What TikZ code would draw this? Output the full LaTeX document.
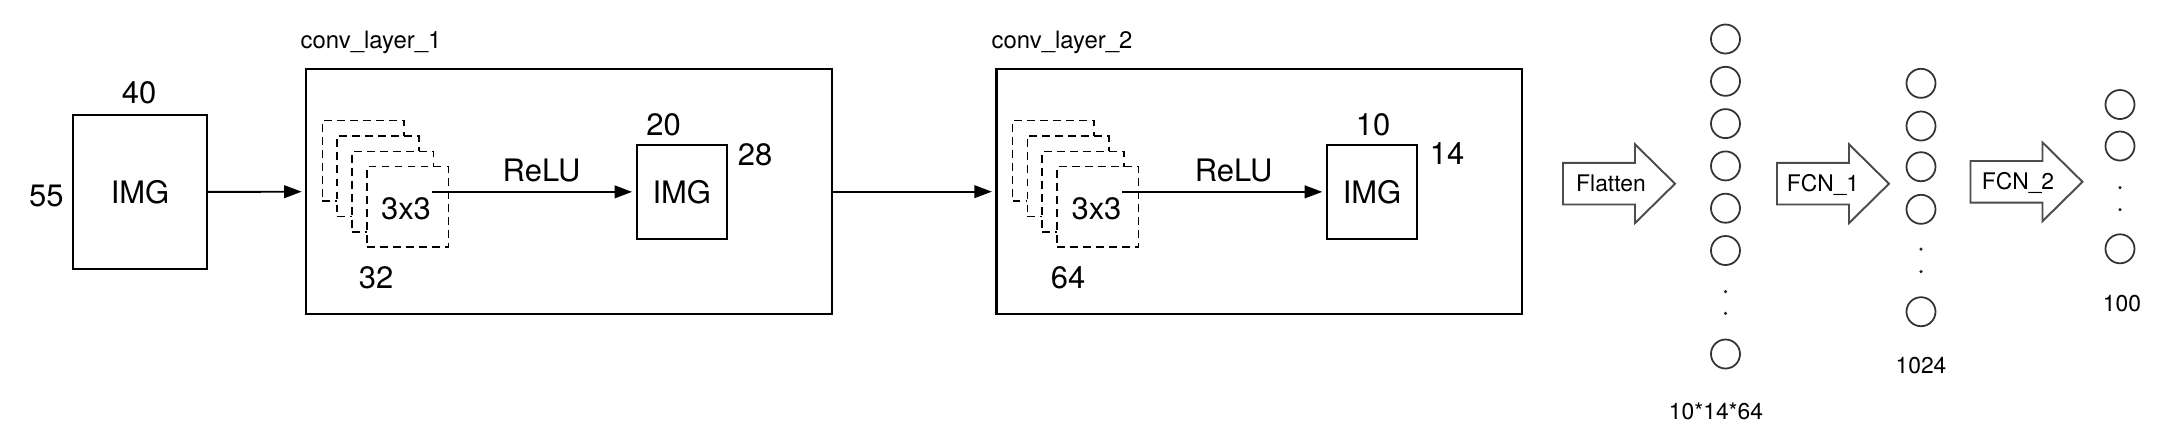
\documentclass[tikz,border=0pt]{standalone}
\usepackage{fontspec}
\setmainfont{TeX Gyre Heros}
\usetikzlibrary{arrows.meta}
\begin{document}
\begin{tikzpicture}[x=0.01cm,y=-0.01cm,
 box/.style={draw=black, line width=0.6pt, inner sep=0},
 lbl/.style={font=\fontsize{8.8}{10}\selectfont, inner sep=0},
 sml/.style={font=\fontsize{6.5}{8}\selectfont, inner sep=0},
 dsq/.style={draw=black, dash pattern=on 2.2pt off 1.5pt, line width=0.45pt, fill=white, minimum width=0.815cm, minimum height=0.805cm, inner sep=0},
 conn/.style={line width=0.55pt, -{Triangle[length=5pt,width=3.6pt]}, shorten >=1pt},
 neuron/.style={circle, draw=black!80, line width=0.5pt, minimum size=0.29cm, inner sep=0},
 dotn/.style={circle, fill=black!85, minimum size=0.035cm, inner sep=0},
 fatline/.style={draw=black!70, line width=0.55pt, fill=white, line join=miter},
 fatarr/.pic={\draw[fatline] (0,-20.8) -- (72,-20.8) -- (72,-39.4) -- (112,0) -- (72,39.4) -- (72,20.8) -- (0,20.8) -- cycle;}
]
\fill[white] (0,0) rectangle (2168,444);
\useasboundingbox (0,0) rectangle (2168,444);

% input image
\node[box, lbl, minimum width=1.342cm, minimum height=1.537cm] (img0) at (140,191.9) {IMG};
\node[lbl] (w0) at (139,92.5) {40};
\node[lbl] (h0) at (46.4,196) {55};

% conv layer 1
\node[box, minimum width=5.255cm, minimum height=2.453cm] (conv1) at (569.15,191.65) {};
\node[sml, font=\fontsize{6.8}{8}\selectfont, anchor=base west] (conv1lbl) at (300,48) {conv\_layer\_1};
\node[dsq] (s1a) at (363.25,160.75) {};
\node[dsq] (s1b) at (378.05,176.15) {};
\node[dsq] (s1c) at (392.85,191.55) {};
\node[dsq] (s1d) at (407.65,206.95) {};
\node[lbl] (k1) at (406,208.3) {3x3};
\node[lbl] (n1) at (376,278) {32};
\node[box, lbl, minimum width=0.902cm, minimum height=0.943cm] (im1) at (681.8,191.85) {IMG};
\node[lbl] (w1) at (663.5,124.7) {20};
\node[lbl] (h1) at (755,154.4) {28};
\node[lbl] (r1) at (541.6,170.4) {ReLU};

% conv layer 2
\node[box, minimum width=5.255cm, minimum height=2.453cm] (conv2) at (1259.35,191.65) {};
\node[sml, font=\fontsize{6.8}{8}\selectfont, anchor=base west] (conv2lbl) at (991,48) {conv\_layer\_2};
\node[dsq] (s2a) at (1053.45,160.75) {};
\node[dsq] (s2b) at (1068.25,176.15) {};
\node[dsq] (s2c) at (1083.05,191.55) {};
\node[dsq] (s2d) at (1097.85,206.95) {};
\node[lbl] (k2) at (1096.5,208.3) {3x3};
\node[lbl] (n2) at (1068,278) {64};
\node[box, lbl, minimum width=0.902cm, minimum height=0.943cm] (im2) at (1372,191.85) {IMG};
\node[lbl] (w2) at (1373,125) {10};
\node[lbl] (h2) at (1447,154) {14};
\node[lbl] (r2) at (1233.7,170.4) {ReLU};

% connectors
\draw[conn] (img0.east) -- (conv1.west);
\draw[conn] (k1.east |- im1.west) -- (im1.west);
\draw[conn] (conv1.east) -- (conv2.west);
\draw[conn] (k2.east |- im2.west) -- (im2.west);

% fat arrows
\pic at (1563,183.7) {fatarr};
\node[sml, anchor=base] (flat) at (1611,191.7) {Flatten};
\pic at (1777,183.7) {fatarr};
\node[sml, anchor=base] (fcn1) at (1823,191.9) {FCN\_1};
\pic at (1970.5,181.8) {fatarr};
\node[sml, anchor=base] (fcn2) at (2018,189.9) {FCN\_2};

% column 1
\node[neuron] (a1) at (1725.5,39) {};
\node[neuron] (a2) at (1725.5,81.3) {};
\node[neuron] (a3) at (1725.5,123.6) {};
\node[neuron] (a4) at (1725.5,165.9) {};
\node[neuron] (a5) at (1725.5,208.2) {};
\node[neuron] (a6) at (1725.5,250.5) {};
\node[dotn] (ad1) at (1725.5,291.7) {};
\node[dotn] (ad2) at (1725.5,313.3) {};
\node[neuron] (a7) at (1725.5,354) {};
\node[sml] (alab) at (1716,411.7) {10*14*64};

% column 2
\node[neuron] (b1) at (1921,83.3) {};
\node[neuron] (b2) at (1921,126) {};
\node[neuron] (b3) at (1921,166.7) {};
\node[neuron] (b4) at (1921,209.3) {};
\node[dotn] (bd1) at (1921,249) {};
\node[dotn] (bd2) at (1921,271.7) {};
\node[neuron] (b5) at (1921,311.7) {};
\node[sml] (blab) at (1921,366) {1024};

% column 3
\node[neuron] (c1) at (2120,104.5) {};
\node[neuron] (c2) at (2120,146) {};
\node[dotn] (cd1) at (2120,187.5) {};
\node[dotn] (cd2) at (2120,209.7) {};
\node[neuron] (c3) at (2120,248.8) {};
\node[sml] (clab) at (2122,303.3) {100};
\end{tikzpicture}
\end{document}
